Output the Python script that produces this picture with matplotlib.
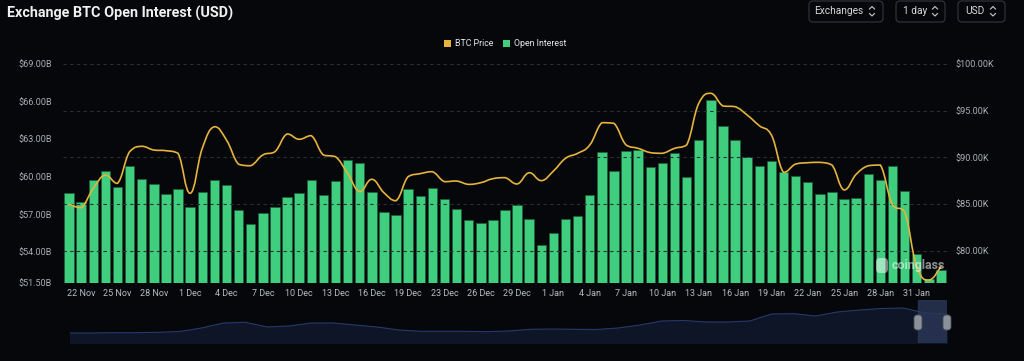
import matplotlib
matplotlib.use("Agg")
import matplotlib.pyplot as plt
import numpy as np
import pandas as pd
from matplotlib.path import Path
from matplotlib.patches import PathPatch, FancyBboxPatch, Rectangle
from matplotlib.transforms import IdentityTransform
from matplotlib.lines import Line2D

# ---------------- data ----------------
dates = pd.date_range("2024-11-21", "2025-02-02", freq="D")
dates = dates[dates != pd.Timestamp("2024-12-20")]
categories = [f"{d.day} {d.strftime('%b')}" for d in dates]

open_interest_b = [
    58.70, 58.00, 59.77, 60.43, 59.15, 60.86, 59.85, 59.42, 58.62, 59.05,
    57.58, 58.75, 59.77, 59.30, 57.34, 56.25, 57.07, 57.58, 58.38, 58.73,
    59.71, 58.54, 59.63, 61.29, 61.10, 58.75, 57.21, 56.94, 59.05, 58.43,
    59.13, 58.25, 57.42, 56.51, 56.30, 56.54, 57.37, 57.74, 56.62, 54.51,
    55.53, 56.59, 56.86, 58.54, 61.93, 60.46, 62.03, 62.09, 60.75, 61.07,
    61.85, 60.01, 62.94, 66.14, 64.03, 62.89, 61.55, 60.81, 61.26, 60.35,
    60.06, 59.58, 58.65, 58.81, 58.22, 58.30, 60.19, 59.74, 60.83, 58.83,
    53.82, 51.80, 52.52,
]

btc_price_k = [
    84.96, 84.60, 86.68, 88.10, 87.21, 90.60, 91.18, 90.78, 90.71, 90.43,
    86.14, 90.96, 93.28, 91.85, 89.25, 89.10, 90.25, 90.60, 92.50, 91.93,
    92.32, 90.25, 90.07, 88.29, 86.32, 87.64, 86.21, 85.35, 87.93, 88.25,
    88.46, 87.39, 87.46, 87.10, 87.28, 87.71, 87.82, 87.14, 88.35, 87.50,
    88.53, 89.89, 90.43, 91.32, 93.71, 93.64, 91.32, 90.96, 90.50, 90.43,
    90.96, 91.32, 95.79, 96.86, 95.50, 95.43, 94.53, 93.39, 92.39, 88.39,
    89.28, 89.42, 89.46, 89.17, 86.50, 88.18, 89.10, 89.17, 84.89, 84.17,
    78.28, 76.85, 78.28,
]

left_ticks = [51.5, 54, 57, 60, 63, 66, 69]
right_ticks = [80, 85, 90, 95, 100]

# overview (navigator) series, relative level
overview_series = [
    10, 10, 10.3, 10.3, 10.7, 11.5, 15, 20, 20.7, 16, 17, 20, 20, 18, 16,
    13, 11.7, 11.7, 11.7, 11.3, 12, 13.7, 14, 13.7, 13.5, 15, 18, 22, 22.5,
    21, 21, 22, 29, 29.3, 27, 31, 33, 34.5, 35, 30, 29,
]

# ---------------- style ----------------
BG = "#05070b"
GREEN = "#3fce7e"
GOLD = "#e6b33c"
GRID = "#2a2d34"
TXT = "#a9adb5"
W, H = 1024, 361

plt.rcParams["font.family"] = ["Roboto", "DejaVu Sans"]

fig = plt.figure(figsize=(W / 100, H / 100), dpi=100, facecolor=BG)


def fx(x):
    return x / W


def fy(y):
    return 1 - y / H


# main axes: x 63..947, y 64..283
ax = fig.add_axes([fx(63), fy(283), (947 - 63) / W, (283 - 64) / H])
ax.set_facecolor(BG)
ax2 = ax.twinx()

n = len(categories)
x = np.arange(n)
ax.bar(x, np.array(open_interest_b) - 51.5, bottom=51.5, width=0.78,
       color=GREEN, edgecolor="#1d5e3a", linewidth=0.5, zorder=2)
ax.set_xlim(-0.5, n - 0.5)
ax.set_ylim(51.5, 69)
ax.set_yticks(left_ticks)
ax.set_yticklabels([f"${v:.2f}B" for v in left_ticks])
ax2.set_ylim(76.53, 100)
ax2.set_yticks(right_ticks)
ax2.set_yticklabels([f"${v:.2f}K" for v in right_ticks])

for v in right_ticks:
    ax2.axhline(v, color=GRID, lw=0.8, ls=(0, (3, 3)), zorder=0)

tick_idx = list(range(1, n, 3))
ax.set_xticks(tick_idx)
ax.set_xticklabels([categories[i] for i in tick_idx])

for a in (ax, ax2):
    for s in a.spines.values():
        s.set_visible(False)
    a.tick_params(length=0, colors=TXT, labelsize=6.5)
ax.tick_params(axis="y", pad=8)
ax2.tick_params(axis="y", pad=6)
ax.tick_params(axis="x", pad=4, labelcolor="#b8bcc4")
ax.set_zorder(1)
ax2.set_zorder(2)
ax2.patch.set_visible(False)

# smooth price line (bezier through the data points)
py = np.array(btc_price_k)
verts = [(x[0], py[0])]
codes = [Path.MOVETO]
s = 0.22
for i in range(n - 1):
    p0 = np.array([x[i], py[i]])
    p1 = np.array([x[i + 1], py[i + 1]])
    pm = np.array([x[i - 1], py[i - 1]]) if i > 0 else p0
    p2 = np.array([x[i + 2], py[i + 2]]) if i + 2 < n else p1
    c1 = p0 + s * (p1 - pm)
    c2 = p1 - s * (p2 - p0)
    lo, hi = min(p0[1], p1[1]), max(p0[1], p1[1])
    c1[1] = np.clip(c1[1], lo, hi)
    c2[1] = np.clip(c2[1], lo, hi)
    verts += [tuple(c1), tuple(c2), tuple(p1)]
    codes += [Path.CURVE4] * 3
ax2.add_patch(PathPatch(Path(verts, codes), facecolor="none", edgecolor=GOLD,
                        lw=1.2, zorder=5, capstyle="round", joinstyle="round"))

# ---------------- title ----------------
fig.text(fx(7), fy(13), "Exchange BTC Open Interest (USD)", color="#f0f0f0",
         fontsize=10.4, fontweight="bold", va="center", ha="left")

# ---------------- legend ----------------
fig.patches.append(Rectangle((444, H - 47), 7, 7, transform=IdentityTransform(),
                             facecolor=GOLD, edgecolor="none"))
fig.text(fx(455), fy(43.5), "BTC Price", color="#e8e8e8", fontsize=6.3, va="center")
fig.patches.append(Rectangle((503, H - 47), 7, 7, transform=IdentityTransform(),
                             facecolor=GREEN, edgecolor="none"))
fig.text(fx(514), fy(43.5), "Open Interest", color="#e8e8e8", fontsize=6.3, va="center")

# ---------------- buttons ----------------
buttons = [("Exchanges", 809, 883, 814, 872), ("1 day", 896, 945, 903, 935),
           ("USD", 958, 1005, 965, 993)]
for label, x0, x1, tx, cx in buttons:
    fig.patches.append(FancyBboxPatch((x0, H - 22), x1 - x0, 21,
                                      boxstyle="round,pad=0,rounding_size=4",
                                      transform=IdentityTransform(),
                                      facecolor=BG, edgecolor="#33363d", lw=0.8))
    fig.text(fx(tx), fy(11.5), label, color="#d6d8dc", fontsize=7.3, va="center")
    fig.lines.append(Line2D([cx - 2.5, cx, cx + 2.5], [H - 9, H - 6.5, H - 9],
                            transform=IdentityTransform(), color="#c8cad0", lw=0.8))
    fig.lines.append(Line2D([cx - 2.5, cx, cx + 2.5], [H - 13.5, H - 16, H - 13.5],
                            transform=IdentityTransform(), color="#c8cad0", lw=0.8))

# ---------------- watermark ----------------
fig.patches.append(FancyBboxPatch((876, H - 273), 12, 15,
                                  boxstyle="round,pad=0,rounding_size=4",
                                  transform=IdentityTransform(),
                                  facecolor="white", edgecolor="none", alpha=0.5, zorder=10))
fig.text(fx(892), fy(265), "coinglass", color="white", alpha=0.55, fontsize=9,
         fontweight="bold", va="center", ha="left", zorder=10)

# ---------------- navigator ----------------
axn = fig.add_axes([fx(70), fy(343), (947 - 70) / W, (343 - 300) / H])
axn.set_facecolor(BG)
m = len(overview_series)
nx = np.linspace(0, 1, m)
ny = np.array(overview_series)
axn.fill_between(nx, 0, ny, color="#0e1526", zorder=1)
axn.plot(nx, ny, color="#26396a", lw=0.8, zorder=2)
axn.set_xlim(0, 1)
axn.set_ylim(0, 43)
sel0 = (918 - 70) / (947 - 70)
axn.axvspan(sel0, 1, color="#2a3858", alpha=0.8, zorder=3)
for s_ in axn.spines.values():
    s_.set_visible(False)
axn.set_xticks([])
axn.set_yticks([])
for hx in (918, 947):
    fig.patches.append(FancyBboxPatch((hx - 4, H - 330), 8, 15,
                                      boxstyle="round,pad=0,rounding_size=3",
                                      transform=IdentityTransform(),
                                      facecolor="#8b9099", edgecolor="#4a4f58", lw=0.6, zorder=10))

fig.savefig("out.png", dpi=100, facecolor=BG)
